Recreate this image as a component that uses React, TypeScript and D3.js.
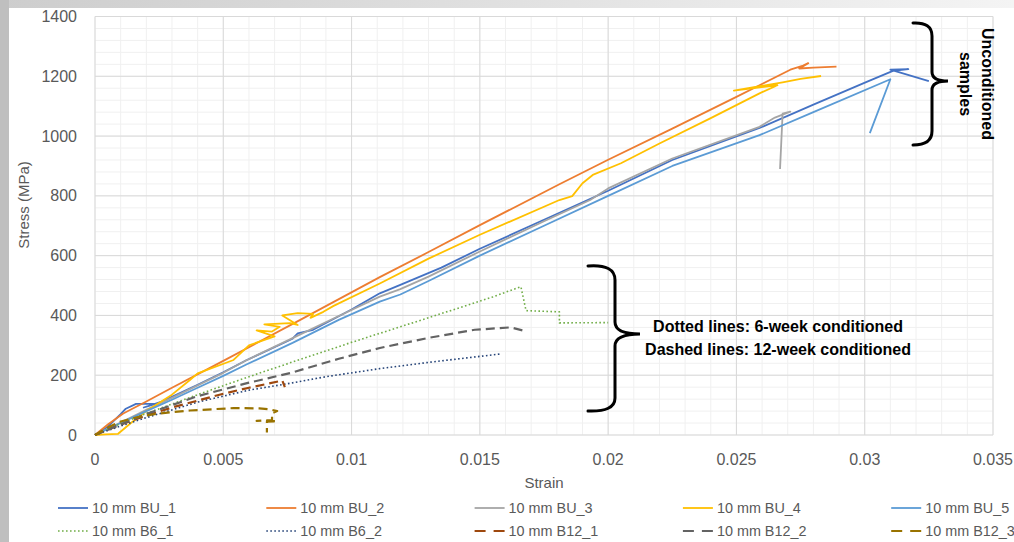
import React from 'react'
import * as d3 from 'd3'

// strain / stress readings per specimen
const bu1 = [[0,0],[0.0005,28],[0.001,70],[0.0012,88],[0.0016,104],[0.0024,105],[0.0019,92],[0.0026,112],[0.004,168],[0.005,210],[0.0059,250],[0.0077,322],[0.0079,340],[0.0085,352],[0.01,420],[0.0111,474],[0.0119,502],[0.0135,560],[0.015,623],[0.0175,720],[0.02,817],[0.0225,920],[0.0259,1027],[0.028,1105],[0.0301,1182],[0.0311,1218],[0.0317,1224],[0.031,1222],[0.0325,1184]]
const bu2 = [[0,0],[0.0005,35],[0.0011,72],[0.002,112],[0.003,158],[0.005,248],[0.008,385],[0.0111,528],[0.013,612],[0.015,702],[0.0181,839],[0.02,921],[0.0225,1025],[0.025,1131],[0.0259,1170],[0.0271,1222],[0.0276,1236],[0.0278,1244],[0.02745,1226],[0.028,1229],[0.0289,1232]]
const bu3 = [[0,0],[0.001,42],[0.002,84],[0.003,124],[0.004,166],[0.005,208],[0.0059,250],[0.0077,324],[0.0095,398],[0.0111,463],[0.0119,488],[0.013,530],[0.015,614],[0.0175,715],[0.0193,786],[0.02,825],[0.0225,925],[0.0259,1031],[0.0265,1062],[0.0271,1082],[0.0268,1075],[0.0267,890]]
const bu4 = [[0,0],[0.0004,2],[0.0009,4],[0.0014,40],[0.002,80],[0.003,135],[0.0037,184],[0.004,206],[0.0054,251],[0.006,300],[0.007,330],[0.0063,350],[0.0069,346],[0.0072,362],[0.0066,370],[0.0076,374],[0.0079,368],[0.0073,400],[0.0079,408],[0.0085,405],[0.0084,392],[0.0089,412],[0.0093,432],[0.0111,507],[0.013,590],[0.015,670],[0.0181,786],[0.0186,799],[0.019,842],[0.0194,870],[0.0205,909],[0.022,975],[0.024,1060],[0.0259,1143],[0.0266,1170],[0.0249,1152],[0.0268,1180],[0.0275,1191],[0.0283,1201]]
const bu5 = [[0,0],[0.001,40],[0.002,80],[0.003,118],[0.004,158],[0.005,198],[0.0059,236],[0.0077,308],[0.0095,385],[0.0111,446],[0.0119,470],[0.013,515],[0.015,600],[0.0175,700],[0.02,800],[0.0225,900],[0.0259,1003],[0.028,1080],[0.031,1190],[0.0302,1010]]
const b6a = [[0,0],[0.001,38],[0.002,72],[0.004,135],[0.006,195],[0.0079,250],[0.01,310],[0.0119,362],[0.014,420],[0.0155,462],[0.0166,496],[0.0168,416],[0.0181,412],[0.0181,375],[0.02,376]]
const b6b = [[0,0],[0.001,30],[0.002,58],[0.004,110],[0.006,150],[0.0076,173],[0.009,195],[0.0111,222],[0.013,243],[0.0145,258],[0.0158,271]]
const b12a = [[0,0],[0.001,35],[0.002,65],[0.003,92],[0.004,115],[0.005,138],[0.006,158],[0.0073,182],[0.0074,160]]
const b12b = [[0,0],[0.001,35],[0.002,70],[0.004,130],[0.006,175],[0.0076,207],[0.0095,255],[0.0111,291],[0.013,325],[0.0148,352],[0.0162,360],[0.0168,347]]
const b12c = [[0,0],[0.0005,25],[0.001,45],[0.00175,62],[0.0025,72],[0.0037,82],[0.0054,90],[0.0064,89],[0.0068,86],[0.0071,80],[0.0069,73],[0.0069,50],[0.0063,47],[0.0071,46],[0.0067,45],[0.0067,8]]

const seriesNames = ['10 mm BU_1', '10 mm BU_2', '10 mm BU_3', '10 mm BU_4', '10 mm BU_5',
  '10 mm B6_1', '10 mm B6_2', '10 mm B12_1', '10 mm B12_2', '10 mm B12_3']
const seriesData = [bu1, bu2, bu3, bu4, bu5, b6a, b6b, b12a, b12b, b12c]

const xTicks = [0, 0.005, 0.01, 0.015, 0.02, 0.025, 0.03, 0.035]
const xTickLabels = ['0', '0.005', '0.01', '0.015', '0.02', '0.025', '0.03', '0.035']
const yTicks = [0, 200, 400, 600, 800, 1000, 1200, 1400]

// styles, in the same order as the series
const colors = ['#4472C4', '#ED7D31', '#A5A5A5', '#FFC000', '#5B9BD5', '#70AD47', '#264478', '#9E480E', '#636363', '#997300']
const kinds = ['solid', 'solid', 'solid', 'solid', 'solid', 'dot', 'dot', 'dash', 'dash', 'dash']

const font = '"Liberation Sans", Arial, sans-serif'
const gray = '#595959'

function strokeFor(kind: string, legend = false) {
  if (kind === 'dot') return { width: 1.6, dash: '1.6,2.4' }
  if (kind === 'dash') return { width: 2.2, dash: legend ? '11,8' : '9,5' }
  return { width: 1.8, dash: undefined }
}

export default function App() {
  const x = d3.scaleLinear().domain([0, 0.035]).range([95, 993])
  const y = d3.scaleLinear().domain([0, 1400]).range([435, 16.5])

  const line = d3.line<number[]>()
    .x(d => x(d[0]))
    .y(d => y(d[1]))

  const xMinor = d3.range(0, 0.03501, 0.001)
  const yMinor = d3.range(0, 1401, 40)

  return (
    <svg width={1014} height={542} style={{ position: 'absolute', left: 0, top: 0, background: '#fff' }}>
      <defs>
        <linearGradient id="topband" x1="0" x2="1" y1="0" y2="0">
          <stop offset="0" stopColor="#cdcdcd" />
          <stop offset="1" stopColor="#f4f4f4" />
        </linearGradient>
      </defs>
      <rect x={0} y={0} width={1014} height={8} fill="url(#topband)" />
      <rect x={0} y={0} width={9} height={542} fill="#bfbfbf" />

      {/* grid */}
      <g>
        {xMinor.map((v, i) => (
          <line key={'xm' + i} x1={x(v)} x2={x(v)} y1={y(0)} y2={y(1400)} stroke="#f0f0f0" strokeWidth={1} />
        ))}
        {yMinor.map((v, i) => (
          <line key={'ym' + i} x1={x(0)} x2={x(0.035)} y1={y(v)} y2={y(v)} stroke="#f0f0f0" strokeWidth={1} />
        ))}
        {xTicks.map((v, i) => (
          <line key={'xM' + i} x1={x(v)} x2={x(v)} y1={y(0)} y2={y(1400)} stroke="#d9d9d9" strokeWidth={1} />
        ))}
        {yTicks.map((v, i) => (
          <line key={'yM' + i} x1={x(0)} x2={x(0.035)} y1={y(v)} y2={y(v)} stroke="#d9d9d9" strokeWidth={1} />
        ))}
      </g>

      {/* tick labels */}
      <g fontFamily={font} fontSize={16} fill={gray}>
        {yTicks.map((v, i) => (
          <text key={'yl' + i} x={77} y={y(v)} dy="0.35em" textAnchor="end">{v}</text>
        ))}
        {xTicks.map((v, i) => (
          <text key={'xl' + i} x={x(v)} y={459} dy="0.35em" textAnchor="middle">{xTickLabels[i]}</text>
        ))}
      </g>
      <text x={544} y={483} dy="0.35em" textAnchor="middle" fontFamily={font} fontSize={15} fill={gray}>Strain</text>
      <text transform="translate(24,205) rotate(-90)" dy="0.35em" textAnchor="middle" fontFamily={font} fontSize={15} fill={gray}>Stress (MPa)</text>

      {/* series */}
      <g fill="none" strokeLinejoin="round">
        {seriesData.map((d, i) => {
          const s = strokeFor(kinds[i])
          return <path key={'s' + i} d={line(d) || ''} stroke={colors[i]} strokeWidth={s.width} strokeDasharray={s.dash} />
        })}
      </g>

      {/* braces and notes */}
      <g fill="none" stroke="#000" strokeWidth={3} strokeLinecap="round">
        <path d="M913,23 Q932,22 932,36 L932,72 Q932,81 948,81 Q932,81 932,90 L932,131 Q932,145 913,145" />
        <path d="M588,266 Q615,264 615,280 L615,322 Q615,334 640,334 Q615,334 615,346 L615,398 Q615,412 588,411" />
      </g>
      <g fontFamily={font} fontWeight="bold" fontSize={16} fill="#000">
        <text transform="translate(988,84) rotate(90)" dy="0.35em" textAnchor="middle">Unconditioned</text>
        <text transform="translate(966,84) rotate(90)" dy="0.35em" textAnchor="middle">samples</text>
        <text x={778} y={326} dy="0.35em" textAnchor="middle">Dotted lines: 6-week conditioned</text>
        <text x={778} y={349} dy="0.35em" textAnchor="middle">Dashed lines: 12-week conditioned</text>
      </g>

      {/* legend */}
      <g fontFamily={font} fontSize={14.4} fill={gray}>
        {seriesNames.map((name, i) => {
          const col = i % 5
          const row = Math.floor(i / 5)
          const lx = 58 + col * 208.3
          const ly = row === 0 ? 508 : 531
          const s = strokeFor(kinds[i], true)
          return (
            <g key={'lg' + i}>
              <line x1={lx} x2={lx + 30} y1={ly} y2={ly} stroke={colors[i]} strokeWidth={s.width} strokeDasharray={s.dash} />
              <text x={lx + 34} y={ly} dy="0.35em">{name}</text>
            </g>
          )
        })}
      </g>
    </svg>
  )
}
